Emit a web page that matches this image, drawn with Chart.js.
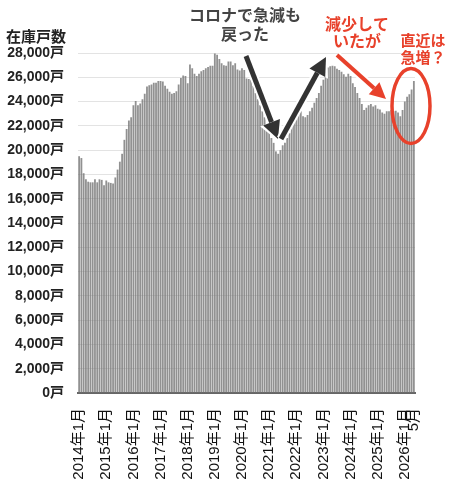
<!DOCTYPE html>
<html lang="ja">
<head>
<meta charset="utf-8">
<script src="https://cdn.jsdelivr.net/npm/chart.js@4"></script>
<style>
  html, body { margin: 0; padding: 0; background: #fff; }
  #wrap { width: 450px; height: 482px; position: relative; }
</style>
</head>
<body>
<div id="wrap"><canvas id="mainChart"></canvas></div>
<script>
// Data
const startYear = 2014;
const monthCount = 149; // 2014年1月 〜 2026年5月

const stockValues = [
  // 2014
  19500, 19350, 18100, 17600, 17400, 17350, 17350, 17600, 17350, 17600, 17550, 17100,
  // 2015
  17500, 17350, 17300, 17250, 17750, 18400, 19050, 19700, 20850, 21750, 22450, 22700,
  // 2016
  23700, 24050, 23700, 23850, 24200, 24650, 25250, 25350, 25400, 25550, 25550, 25700,
  // 2017
  25700, 25650, 25300, 25050, 24800, 24650, 24700, 24850, 25400, 25950, 26150, 26100,
  // 2018
  25500, 27050, 26750, 26300, 26100, 26300, 26500, 26600, 26750, 26850, 26950, 26950,
  // 2019
  27950, 27850, 27500, 27150, 27000, 26950, 27300, 27300, 27000, 27150, 26650, 26550,
  // 2020
  26750, 26600, 25900, 25850, 25800, 25300, 24700, 24200, 23700, 23200, 22700, 22100,
  // 2021
  21500, 21000, 20600, 19900, 19700, 20000, 20400, 20600, 21000, 21400, 22000, 22300,
  // 2022
  22700, 23100, 23200, 22800, 22700, 22900, 23200, 23500, 23900, 24300, 24700, 25300,
  // 2023
  25800, 26600, 26800, 26900, 26950, 26900, 26700, 26600, 26450, 26250, 26050, 26300,
  // 2024
  26100, 25500, 25200, 24700, 24300, 23800, 23300, 23500, 23700, 23800, 23600, 23700,
  // 2025
  23400, 23350, 23100, 23000, 23200, 23200, 23300, 23200, 23250, 23100, 22800, 23300,
  // 2026
  24000, 24400, 24600, 25000, 25700
];

const yMax = 28000;
const yStep = 2000;

const monthLabels = [];
for (let i = 0; i < monthCount; i++) {
  monthLabels.push((startYear + Math.floor(i / 12)) + '年' + (i % 12 + 1) + '月');
}

const fontFamily = '"Liberation Sans", "Noto Sans CJK JP", sans-serif';

// Annotations (arrows, text, circle) drawn on top
const annotationPlugin = {
  id: 'annotations',
  afterDraw(chart) {
    const ctx = chart.ctx;
    ctx.save();

    // axis title
    ctx.fillStyle = '#222';
    ctx.font = 'bold 15px ' + fontFamily;
    ctx.textAlign = 'center';
    ctx.textBaseline = 'middle';
    ctx.fillText('在庫戸数', 36, 38);

    // black arrows
    drawArrow(ctx, 246, 56, 278, 139, '#333', 5, 18, 18);
    drawArrow(ctx, 281, 139, 326, 57, '#333', 5, 18, 18);

    ctx.fillStyle = '#444';
    ctx.font = 'bold 16px ' + fontFamily;
    ctx.fillText('コロナで急減も', 245, 17);
    ctx.fillText('戻った', 245, 36);

    // red arrow
    drawArrow(ctx, 337, 55, 386, 99, '#e8412b', 4, 16, 16);

    ctx.fillStyle = '#e8412b';
    ctx.font = 'bold 16px ' + fontFamily;
    ctx.fillText('減少して', 357, 26);
    ctx.fillText('いたが', 357, 43);

    ctx.font = 'bold 15px ' + fontFamily;
    ctx.fillText('直近は', 423, 42);
    ctx.fillText('急増？', 423, 59);

    // red ellipse
    ctx.strokeStyle = '#e8412b';
    ctx.lineWidth = 3.5;
    ctx.beginPath();
    ctx.ellipse(411, 106, 19, 37.5, 0, 0, Math.PI * 2);
    ctx.stroke();

    ctx.restore();
  }
};

function drawArrow(ctx, x1, y1, x2, y2, color, width, headLen, headWidth) {
  const ang = Math.atan2(y2 - y1, x2 - x1);
  const bx = x2 - headLen * Math.cos(ang);
  const by = y2 - headLen * Math.sin(ang);
  const px = -Math.sin(ang) * headWidth / 2;
  const py = Math.cos(ang) * headWidth / 2;

  // white halo
  ctx.lineCap = 'butt';
  ctx.strokeStyle = '#fff';
  ctx.lineWidth = width + 4;
  ctx.beginPath();
  ctx.moveTo(x1, y1);
  ctx.lineTo(bx, by);
  ctx.stroke();
  ctx.fillStyle = '#fff';
  ctx.beginPath();
  ctx.moveTo(x2 + 3 * Math.cos(ang), y2 + 3 * Math.sin(ang));
  ctx.lineTo(bx + px * 1.35, by + py * 1.35);
  ctx.lineTo(bx - px * 1.35, by - py * 1.35);
  ctx.closePath();
  ctx.fill();

  ctx.strokeStyle = color;
  ctx.lineWidth = width;
  ctx.beginPath();
  ctx.moveTo(x1, y1);
  ctx.lineTo(bx, by);
  ctx.stroke();
  ctx.fillStyle = color;
  ctx.beginPath();
  ctx.moveTo(x2, y2);
  ctx.lineTo(bx + px, by + py);
  ctx.lineTo(bx - px, by - py);
  ctx.closePath();
  ctx.fill();
}

document.addEventListener('DOMContentLoaded', function() {
  const ctx = document.getElementById('mainChart').getContext('2d');
  new Chart(ctx, {
    type: 'bar',
    data: {
      labels: monthLabels,
      datasets: [{
        label: '在庫戸数',
        data: stockValues,
        backgroundColor: 'rgba(118, 118, 118, 0.8)',
        borderWidth: 0,
        barPercentage: 0.8,
        categoryPercentage: 1.0
      }]
    },
    options: {
      responsive: true,
      maintainAspectRatio: false,
      animation: false,
      layout: {
        padding: { top: 53, left: 4, right: 35, bottom: 2 }
      },
      plugins: {
        legend: { display: false },
        tooltip: { enabled: false }
      },
      scales: {
        x: {
          grid: { display: false },
          border: { color: '#666', width: 2 },
          afterFit: function(scale) {
            scale.height = 87;
          },
          ticks: {
            autoSkip: false,
            maxRotation: 90,
            minRotation: 90,
            padding: 7,
            color: '#111',
            font: { size: 15, family: fontFamily },
            callback: function(value, index) {
              if (index === monthCount - 1) return (index % 12 + 1) + '月';
              return index % 12 === 0 ? monthLabels[index] : '';
            }
          }
        },
        y: {
          min: 0,
          max: yMax,
          border: { display: false },
          grid: { color: '#e3e3e3', drawTicks: false },
          afterFit: function(scale) {
            scale.width = 74;
          },
          ticks: {
            stepSize: yStep,
            padding: 14,
            color: '#222',
            font: { size: 14, weight: 'bold', family: fontFamily },
            callback: function(value) {
              return value.toLocaleString('en-US') + '戸';
            }
          }
        }
      }
    },
    plugins: [annotationPlugin]
  });
});
</script>
</body>
</html>
